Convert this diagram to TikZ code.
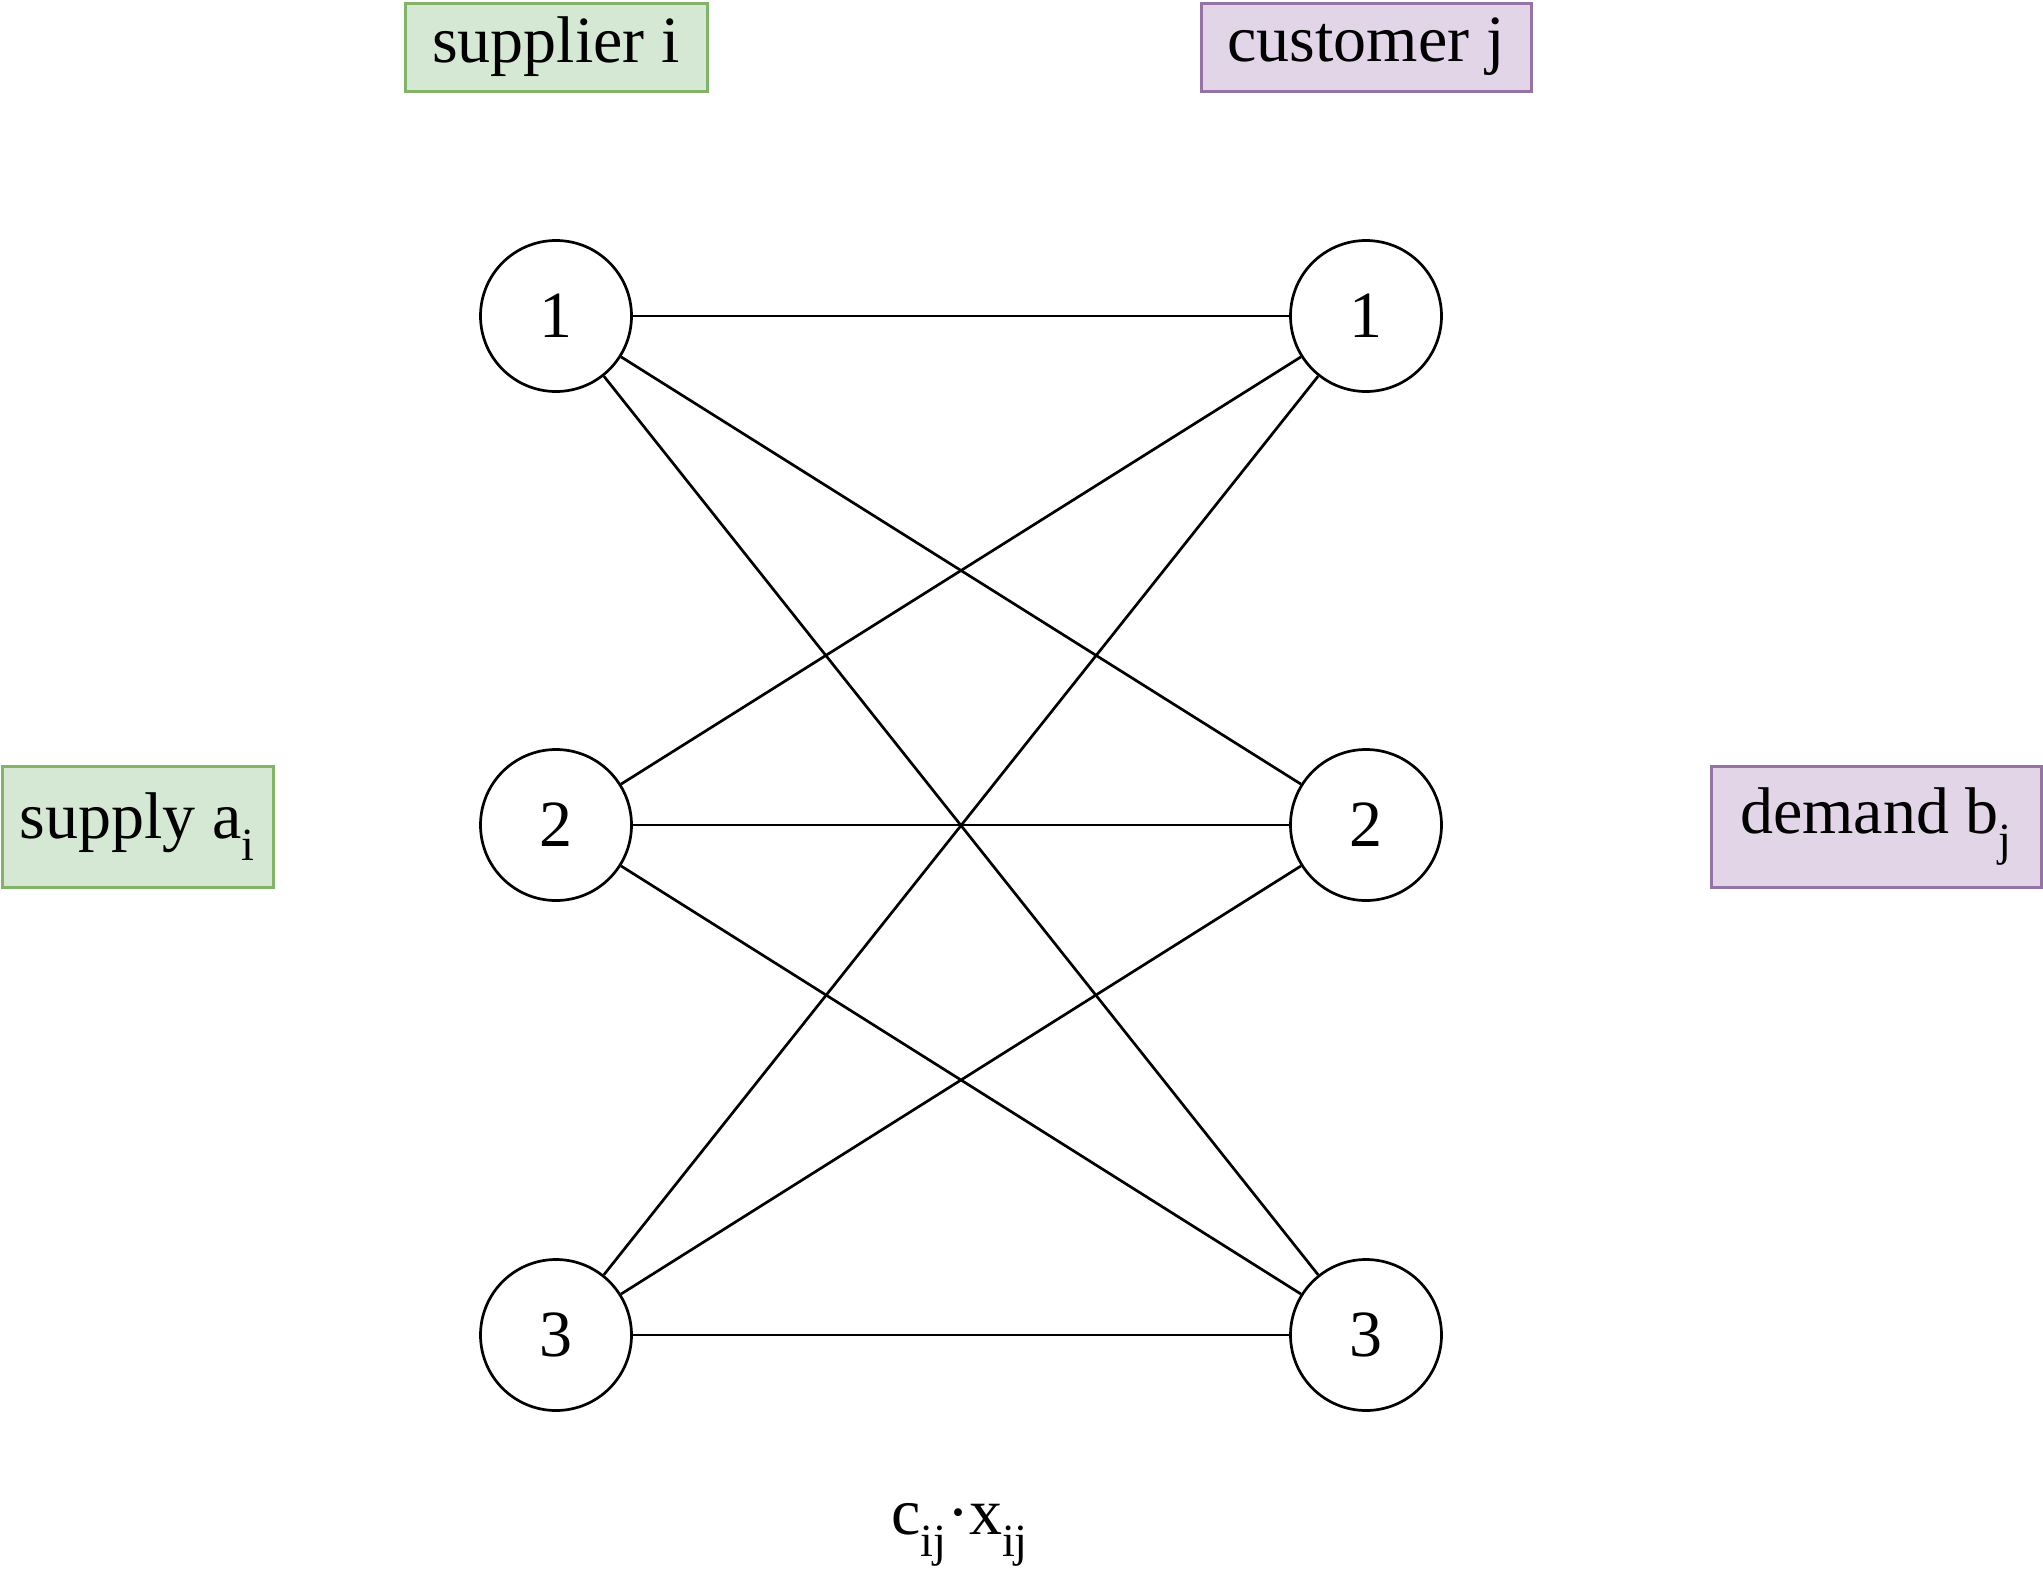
\documentclass[tikz,border=0pt]{standalone}
\usepackage{fontspec}
\setmainfont{Liberation Serif}
\definecolor{gfill}{HTML}{D5E8D4}
\definecolor{gdraw}{HTML}{82B366}
\definecolor{pfill}{HTML}{E1D5E7}
\definecolor{pdraw}{HTML}{9673A6}
\begin{document}
\begin{tikzpicture}[x=1pt,y=-1pt,
  every node/.style={font=\fontsize{66}{79}\selectfont, inner sep=0pt},
  vertex/.style={circle, draw, line width=2.7pt, minimum size=151pt},
  gbox/.style={rectangle, draw=gdraw, fill=gfill, line width=3pt},
  pbox/.style={rectangle, draw=pdraw, fill=pfill, line width=3pt},
  edge/.style={line width=2.7pt}]
\useasboundingbox (0,0) rectangle (2043,1593);
\node[vertex] (s1) at (556,316) {1};
\node[vertex] (s2) at (556,825) {2};
\node[vertex] (s3) at (556,1335) {3};
\node[vertex] (c1) at (1366,316) {1};
\node[vertex] (c2) at (1366,825) {2};
\node[vertex] (c3) at (1366,1335) {3};
\node[gbox, minimum width=302pt, minimum height=88pt] (sup) at (556,47) {supplier i};
\node[pbox, minimum width=330pt, minimum height=88pt] (cus) at (1366,47) {customer j};
\node[gbox, minimum width=271pt, minimum height=121pt] (sa) at (137.5,826.5) {supply a\textsubscript{i}};
\node[pbox, minimum width=330pt, minimum height=121pt] (db) at (1876,826.5) {demand b\textsubscript{j}};
\node (cost) at (960,1535) {c\textsubscript{ij}·x\textsubscript{ij}};
\foreach \i in {1,2,3}{
  \foreach \j in {1,2,3}{
    \draw[edge] (s\i) -- (c\j);
  }
}
\end{tikzpicture}
\end{document}
